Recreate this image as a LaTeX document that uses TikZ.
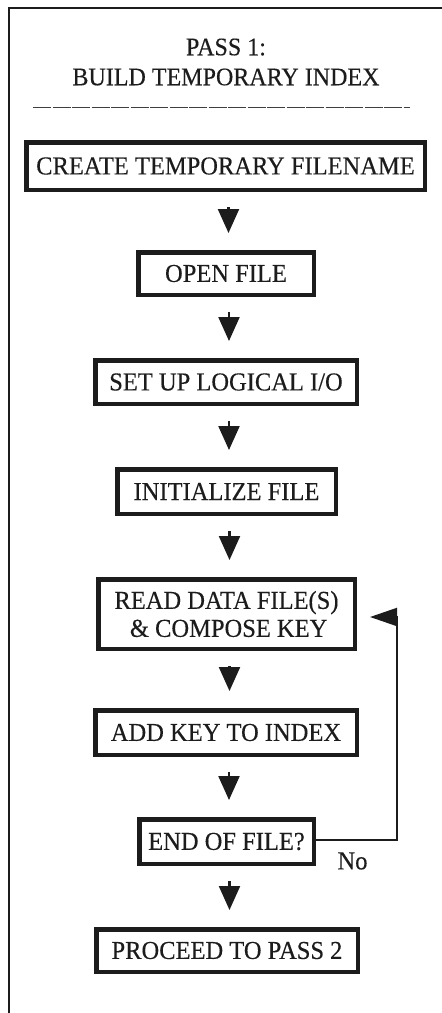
\documentclass[tikz,border=0pt]{standalone}
\usepackage{fontspec}
\setmainfont{Liberation Serif}[FakeStretch=0.95, FakeBold=0.3]
\usetikzlibrary{arrows.meta}
\definecolor{ink}{HTML}{1C1C1C}
\begin{document}
\begin{tikzpicture}[x=1pt,y=-1pt,
  every node/.style={text=ink, font=\fontsize{25.8}{28}\selectfont},
  flowbox/.style={draw=ink, line width=4.5pt, inner sep=0pt, align=center, fill=white},
  downarrow/.style={draw=ink, line width=2.2pt, -{Triangle[length=24pt,width=21pt]},
                    shorten <=15pt, shorten >=17pt},
  looparrow/.style={draw=ink, line width=2pt, -{Triangle[length=27pt,width=18pt]},
                    shorten >=13pt, line join=miter},
  frame/.style={draw=ink, line width=2.5pt, line join=miter},
  rule/.style={draw=ink!85, line width=1pt, dash pattern=on 18pt off 1.5pt}]

% page
\fill[white] (0,0) rectangle (442,1013);
\useasboundingbox (0,0) rectangle (442,1013);

% open frame: left side and top only
\coordinate (frameBL) at (9,1015);
\coordinate (frameTL) at (9,8);
\coordinate (frameTR) at (444,8);
\draw[frame] (frameBL) -- (frameTL) -- (frameTR);

% heading and rule under it
\node[align=center, font=\fontsize{25.3}{30}\selectfont] (title) at (226,62)
  {PASS 1:\\BUILD TEMPORARY INDEX};
\coordinate (ruleL) at (33,107);
\coordinate (ruleR) at (410,107);
\draw[rule] (ruleL) -- (ruleR);

% process steps
\node[flowbox, minimum width=398.5pt, minimum height=47.5pt] (create) at (225.5,166)
  {CREATE TEMPORARY FILENAME};
\node[flowbox, minimum width=175.5pt, minimum height=42.5pt] (open) at (226,273.5)
  {OPEN FILE};
\node[flowbox, minimum width=261.5pt, minimum height=43.5pt] (setup) at (226,382)
  {SET UP LOGICAL I/O};
\node[flowbox, minimum width=218.5pt, minimum height=44.5pt] (init) at (226.5,491.5)
  {INITIALIZE FILE};
\node[flowbox, minimum width=256.5pt, minimum height=69.5pt] (read) at (226.5,614)
  {READ DATA FILE(S)\\ \,\& COMPOSE KEY};
\node[flowbox, minimum width=261.5pt, minimum height=44.5pt] (addkey) at (226,732.5)
  {ADD KEY TO INDEX};
\node[flowbox, minimum width=174.5pt, minimum height=44.5pt] (endf) at (226.5,841.5)
  {END OF FILE?};
\node[flowbox, minimum width=261.5pt, minimum height=42.5pt] (proceed) at (227,950.5)
  {PROCEED TO PASS 2};

% straight-down flow
\draw[downarrow] ([xshift=3pt]create.south) -- ([xshift=3pt]create.south |- open.north);
\draw[downarrow] ([xshift=3pt]open.south) -- ([xshift=3pt]open.south |- setup.north);
\draw[downarrow] ([xshift=3pt]setup.south) -- ([xshift=3pt]setup.south |- init.north);
\draw[downarrow] ([xshift=3pt]init.south) -- ([xshift=3pt]init.south |- read.north);
\draw[downarrow] ([xshift=3pt]read.south) -- ([xshift=3pt]read.south |- addkey.north);
\draw[downarrow] ([xshift=3pt]addkey.south) -- ([xshift=3pt]addkey.south |- endf.north);
\draw[downarrow] ([xshift=3pt]endf.south) -- ([xshift=3pt]endf.south |- proceed.north);

% loop back when not at end of file
\coordinate (loopcorner) at (397,617);
\draw[looparrow] ([yshift=1.5pt]endf.east) -| (loopcorner) -- (loopcorner -| read.east);
\node (nolabel) at (352.5,861) {No};

\end{tikzpicture}
\end{document}
